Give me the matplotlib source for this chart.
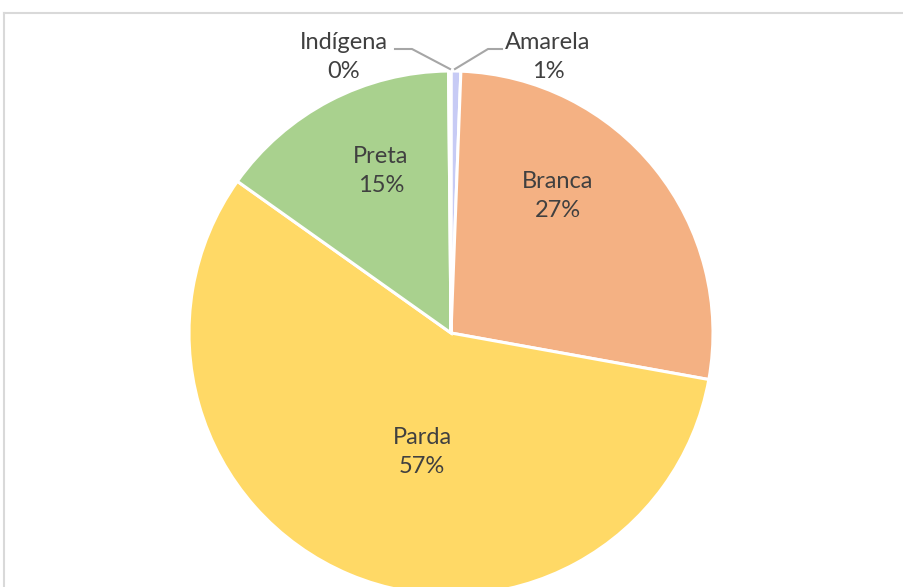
import numpy as np
import matplotlib.pyplot as plt
from matplotlib.lines import Line2D

categorias = ["Amarela", "Branca", "Parda", "Preta", "Indígena"]
valores = [0.6, 27.2, 56.9, 15.0, 0.15]
cores = ["#C7CBF5", "#F4B183", "#FFD966", "#A9D18E", "#D9D9D9"]

# posicoes dos rotulos (pixels da imagem, y para baixo)
pos_rotulos = [(548, 57), (558, 196), (422, 452), (381, 171), (344, 57)]
pontas_guia = [[(502, 49), (488, 49), (455, 69)], None, None, None,
               [(395, 49), (412, 49), (450, 69)]]

W, H = 904, 587
fig = plt.figure(figsize=(W / 100, H / 100), dpi=100)
ax = fig.add_axes([0, 0, 1, 1])

cx, cy, r = 451, H - 333, 262
ax.pie(valores, colors=cores, startangle=90, counterclock=False,
       center=(cx, cy), radius=r, frame=True,
       wedgeprops=dict(edgecolor="white", linewidth=2.2))
ax.set_xlim(0, W)
ax.set_ylim(0, H)
ax.set_aspect("equal")
ax.axis("off")

total = sum(valores)
for nome, v, (px, py), guia in zip(categorias, valores, pos_rotulos, pontas_guia):
    ax.text(px, H - py, f"{nome}\n{v / total * 100:.0f}%", ha="center", va="center",
            fontsize=17, family="Lato", color="#404040", linespacing=1.5)
    if guia:
        xs = [p[0] for p in guia]
        ys = [H - p[1] for p in guia]
        ax.plot(xs, ys, color="#A6A6A6", lw=1.5)

# moldura do grafico
fig.add_artist(Line2D([4.5 / W, 1], [1 - 12.5 / H] * 2, color="#D9D9D9", lw=1.5))
fig.add_artist(Line2D([4.5 / W] * 2, [0, 1 - 12.5 / H], color="#D9D9D9", lw=1.5))

fig.savefig("out.png", dpi=100)
